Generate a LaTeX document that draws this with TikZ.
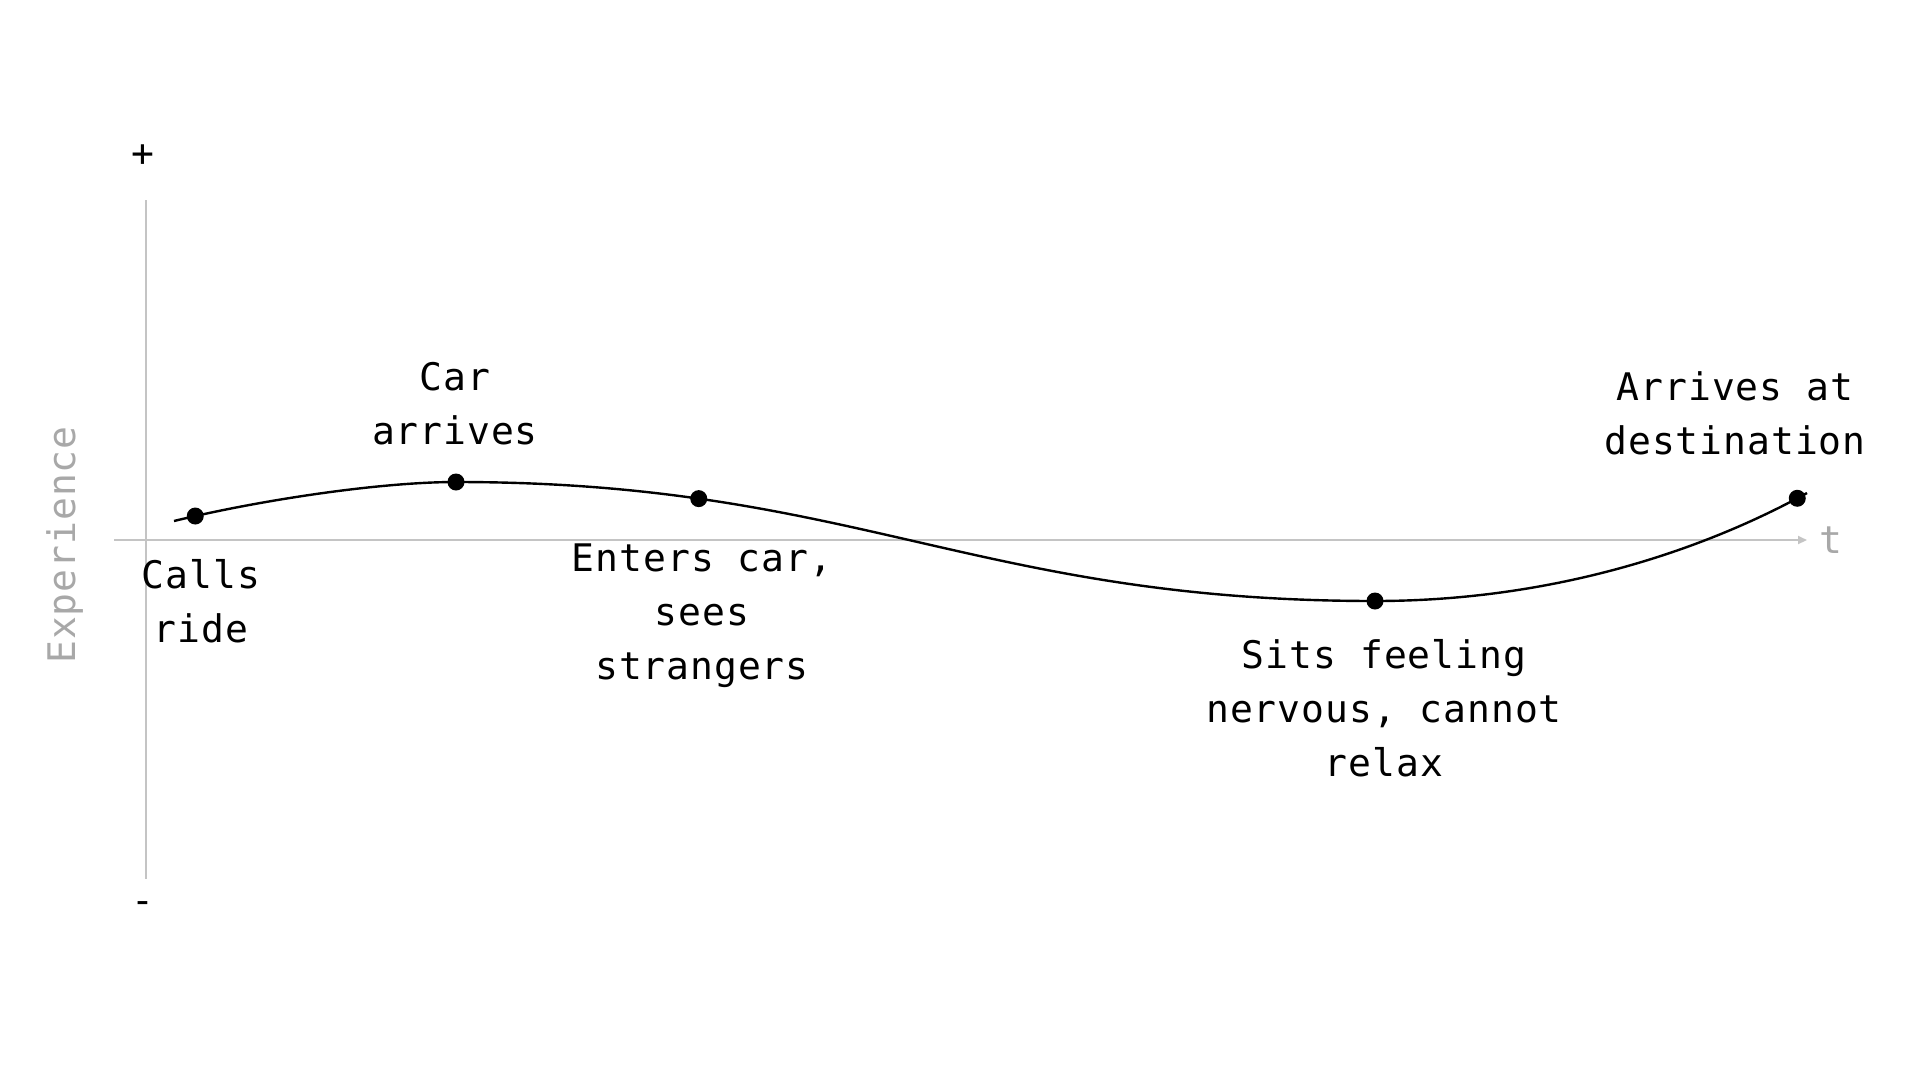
\documentclass[tikz,border=0pt]{standalone}
\usepackage{fontspec}
\newfontfamily\monofnt[LetterSpace=2.5]{DejaVu Sans Mono}
\usetikzlibrary{arrows.meta}
\definecolor{axisgray}{HTML}{C4C4C4}
\definecolor{labelgray}{HTML}{A8A8A8}
\tikzset{
  axisline/.style={draw=axisgray, line width=2pt},
  curveline/.style={draw=black, line width=2.4pt},
  dotnode/.style={circle, fill=black, inner sep=0pt, minimum size=17pt},
  lbl/.style={font=\monofnt\fontsize{38}{54}\selectfont, align=center, inner sep=0pt, text=black},
  glbl/.style={font=\monofnt\fontsize{38}{54}\selectfont, inner sep=0pt, text=labelgray},
}
\begin{document}
\begin{tikzpicture}[x=1pt,y=-1pt]
\useasboundingbox[fill=white] (0,0) rectangle (1920,1080);
% axes
\coordinate (ytop) at (146,200);
\coordinate (ybot) at (146,879);
\coordinate (xl) at (114,540);
\coordinate (xr) at (1807,540);
\draw[axisline] (ytop) -- (ybot);
\draw[axisline, -{Triangle[length=9pt,width=8pt]}] (xl) -- (xr);
\node[lbl] (plus) at (143,156) {+};
\node[lbl] (minus) at (143,908) {-};
\node[glbl] (tlbl) at (1831,540) {t};
\node[glbl, rotate=90] (ylbl) at (65,545) {Experience};
% curve
\coordinate (c0) at (174,521);
\coordinate (c1) at (456,482);
\coordinate (c2) at (1375,601);
\coordinate (c3) at (1807,493);
\draw[curveline] (c0) .. controls (260,500) and (380,482) .. (c1)
   node[dotnode, pos=0.08] (d1) {};
\draw[curveline] (c1) .. controls (856,482) and (975,601) .. (c2)
   node[dotnode, pos=0.235] (d3) {};
\draw[curveline] (c2) .. controls (1550,601) and (1700,552) .. (c3)
   node[dotnode, pos=0.97] (d5) {};
\node[dotnode] (d2) at (c1) {};
\node[dotnode] (d4) at (c2) {};
% labels
\node[lbl] (l1) at (201,601) {Calls\\ride};
\node[lbl] (l2) at (455,404) {Car\\arrives};
\node[lbl] (l3) at (702,616) {Enters car,\\sees\\strangers};
\node[lbl] (l4) at (1384,708) {Sits feeling\\nervous, cannot\\relax};
\node[lbl] (l5) at (1735,413) {Arrives at\\destination};
\end{tikzpicture}
\end{document}
